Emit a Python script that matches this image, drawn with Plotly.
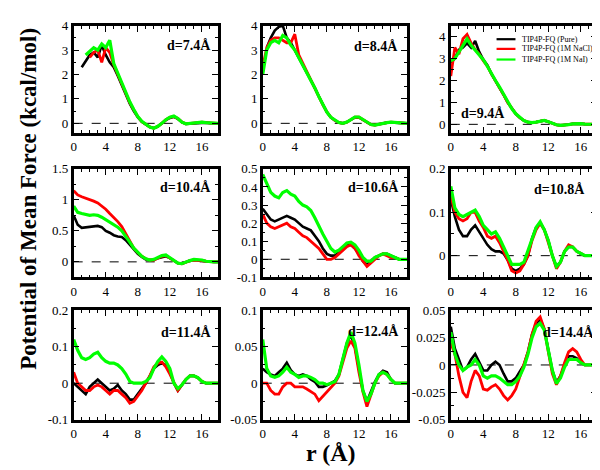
import plotly.graph_objects as go

# r grid (Angstrom), step 0.5
R = [0, 0.5, 1, 1.5, 2, 2.5, 3, 3.5, 4, 4.5, 5, 5.5, 6, 6.5, 7, 7.5, 8, 8.5, 9, 9.5,
     10, 10.5, 11, 11.5, 12, 12.5, 13, 13.5, 14, 14.5, 15, 15.5, 16, 16.5, 17, 17.5, 18]

SERIES = ["TIP4P-FQ (Pure)", "TIP4P-FQ (1M NaCl)", "TIP4P-FQ (1M NaI)"]
COLORS = ["#000000", "#ff0000", "#00ff00"]
WIDTHS = [2.6, 2.8, 3.2]
N = None

# d = 7.4
d74_pure = [N, N, 2.3, 2.55, 2.8, 2.9, 2.7, 3.2, 2.8, 2.5, 2.3, 1.95, 1.55, 1.15, 0.8, 0.5, 0.25, 0.06, -0.06, -0.15, -0.2,
            -0.13, 0.0, 0.13, 0.22, 0.27, 0.18, 0.05, -0.02, -0.01, 0.01, 0.03, 0.05, 0.03, 0.01, 0.0, 0.0]
d74_nacl = [N, N, N, N, 2.7, 2.9, 3.0, 2.5, 3.1, 2.9, 2.4, 2.0, 1.6, 1.2, 0.85, 0.55, 0.27, 0.07, -0.05, -0.15, -0.2,
            -0.12, 0.0, 0.15, 0.25, 0.28, 0.2, 0.05, -0.02, 0.0, 0.02, 0.05, 0.05, 0.03, 0.01, 0.0, 0.0]
d74_nai = [N, N, N, 2.8, 2.95, 3.1, 3.0, 3.25, 3.1, 3.4, 2.45, 2.05, 1.65, 1.25, 0.88, 0.57, 0.28, 0.08, -0.05, -0.15, -0.2,
           -0.12, 0.0, 0.15, 0.25, 0.3, 0.2, 0.05, -0.02, 0.0, 0.02, 0.05, 0.05, 0.03, 0.02, 0.0, 0.0]
# d = 8.4
d84_pure = [N, 3.1, 3.5, 3.8, 3.95, 4.0, 3.5, 3.3, 3.0, 2.65, 2.35, 2.1, 1.8, 1.45, 1.1, 0.75, 0.46, 0.25, 0.12, 0.03, 0.0,
            0.05, 0.15, 0.24, 0.24, 0.14, 0.03, -0.05, -0.07, -0.03, 0.0, 0.03, 0.04, 0.03, 0.01, 0.0, 0.0]
d84_nacl = [2.3, 3.1, 3.4, 3.5, 3.5, 3.4, 3.3, 3.3, 3.65, 2.8, 2.45, 2.12, 1.8, 1.45, 1.1, 0.76, 0.47, 0.25, 0.12, 0.03, 0.0,
            0.05, 0.15, 0.25, 0.25, 0.15, 0.03, -0.05, -0.07, -0.03, 0.0, 0.03, 0.05, 0.04, 0.02, 0.0, 0.0]
d84_nai = [2.0, 3.0, 3.3, 3.4, 3.3, 3.6, 3.5, 3.2, 3.0, 2.7, 2.4, 2.1, 1.8, 1.45, 1.1, 0.75, 0.46, 0.25, 0.12, 0.03, 0.0,
           0.05, 0.15, 0.26, 0.26, 0.15, 0.03, -0.05, -0.07, -0.03, 0.0, 0.03, 0.05, 0.03, 0.01, 0.0, 0.0]
# d = 9.4
d94_pure = [2.8, 3.0, 3.4, 3.5, 3.7, 3.5, 3.8, 3.3, 2.95, 2.7, 2.3, 2.0, 1.7, 1.35, 1.0, 0.72, 0.48, 0.3, 0.17, 0.1, 0.08,
            0.1, 0.15, 0.18, 0.12, 0.04, -0.02, -0.05, -0.04, -0.01, 0.02, 0.04, 0.03, 0.01, 0.0, 0.0, 0.0]
d94_nacl = [2.2, 3.5, 3.2, 3.9, 4.1, 3.7, 3.4, 3.2, 2.9, 2.65, 2.3, 2.0, 1.7, 1.35, 1.0, 0.72, 0.48, 0.3, 0.17, 0.1, 0.08,
            0.1, 0.15, 0.18, 0.12, 0.04, -0.02, -0.05, -0.04, -0.01, 0.02, 0.04, 0.03, 0.01, 0.0, 0.0, 0.0]
d94_nai = [2.9, 3.0, 3.3, 3.6, 3.9, 3.6, 3.4, 3.2, 2.95, 2.65, 2.3, 2.0, 1.7, 1.35, 1.0, 0.72, 0.48, 0.3, 0.17, 0.1, 0.08,
           0.1, 0.15, 0.18, 0.12, 0.04, -0.02, -0.05, -0.04, -0.01, 0.02, 0.04, 0.03, 0.01, 0.0, 0.0, 0.0]
# d = 10.4
d104_pure = [0.75, 0.6, 0.55, 0.56, 0.57, 0.58, 0.58, 0.56, 0.5, 0.47, 0.43, 0.41, 0.4, 0.35, 0.28, 0.2, 0.13, 0.08, 0.04, 0.03,
             0.03, 0.06, 0.08, 0.09, 0.06, 0.02, -0.02, -0.03, 0.0, 0.02, 0.03, 0.03, 0.02, 0.01, 0.0, 0.0, 0.0]
d104_nacl = [1.15, 1.08, 1.05, 1.03, 1.0, 0.98, 0.95, 0.9, 0.85, 0.78, 0.72, 0.65, 0.57, 0.45, 0.32, 0.22, 0.15, 0.09, 0.05, 0.03,
             0.03, 0.06, 0.09, 0.1, 0.06, 0.02, -0.02, -0.03, 0.0, 0.02, 0.03, 0.03, 0.02, 0.01, 0.0, 0.0, 0.0]
d104_nai = [0.9, 0.8, 0.78, 0.76, 0.75, 0.76, 0.75, 0.72, 0.68, 0.64, 0.6, 0.56, 0.5, 0.42, 0.32, 0.22, 0.15, 0.09, 0.05, 0.03,
            0.04, 0.07, 0.1, 0.11, 0.07, 0.03, -0.02, -0.03, 0.0, 0.02, 0.04, 0.04, 0.03, 0.01, 0.0, 0.0, 0.0]
# d = 10.6
d106_pure = [0.28, 0.25, 0.22, 0.21, 0.22, 0.23, 0.24, 0.23, 0.22, 0.2, 0.18, 0.17, 0.16, 0.13, 0.1, 0.06, 0.03, 0.02, 0.02, 0.04,
             0.06, 0.08, 0.08, 0.06, 0.03, -0.01, -0.03, -0.01, 0.01, 0.02, 0.03, 0.03, 0.02, 0.01, 0.0, 0.0, 0.0]
d106_nacl = [0.25, 0.2, 0.18, 0.17, 0.18, 0.19, 0.2, 0.18, 0.17, 0.15, 0.13, 0.12, 0.1, 0.08, 0.06, 0.03, 0.0, 0.0, 0.01, 0.03,
             0.05, 0.07, 0.08, 0.06, 0.02, -0.01, -0.04, -0.02, 0.0, 0.02, 0.03, 0.02, 0.01, 0.01, 0.0, 0.0, 0.0]
d106_nai = [0.47, 0.42, 0.37, 0.35, 0.34, 0.37, 0.38, 0.36, 0.35, 0.32, 0.3, 0.29, 0.27, 0.23, 0.18, 0.14, 0.1, 0.06, 0.04, 0.05,
            0.07, 0.09, 0.095, 0.08, 0.05, 0.01, -0.01, -0.01, 0.01, 0.02, 0.03, 0.03, 0.02, 0.01, 0.0, 0.0, 0.0]
# d = 10.8
d108_pure = [0.13, 0.09, 0.06, 0.045, 0.045, 0.06, 0.07, 0.055, 0.04, 0.025, 0.015, 0.01, 0.01, 0.005, -0.01, -0.03, -0.035, -0.03, -0.02, 0.0,
             0.04, 0.065, 0.075, 0.06, 0.035, 0.0, -0.025, -0.015, 0.01, 0.02, 0.02, 0.01, 0.005, 0.0, 0.0, 0.0, 0.0]
d108_nacl = [0.14, 0.1, 0.085, 0.08, 0.085, 0.1, 0.1, 0.08, 0.065, 0.045, 0.04, 0.045, 0.03, 0.01, -0.01, -0.035, -0.04, -0.035, -0.02, 0.0,
             0.035, 0.06, 0.075, 0.06, 0.03, -0.005, -0.03, -0.015, 0.01, 0.025, 0.02, 0.01, 0.005, 0.0, 0.0, 0.0, 0.0]
d108_nai = [0.16, 0.11, 0.095, 0.09, 0.095, 0.1, 0.105, 0.09, 0.07, 0.06, 0.05, 0.055, 0.04, 0.02, 0.0, -0.02, -0.02, -0.02, -0.015, 0.01,
            0.04, 0.065, 0.078, 0.06, 0.035, 0.0, -0.025, -0.015, 0.01, 0.02, 0.02, 0.01, 0.005, 0.0, 0.0, 0.0, 0.0]
# d = 11.4
d114_pure = [0.0, -0.01, -0.02, -0.03, -0.01, 0.0, 0.01, 0.0, -0.01, -0.02, -0.015, -0.005, -0.02, -0.03, -0.045, -0.045, -0.03, -0.015, 0.0, 0.02,
             0.04, 0.05, 0.055, 0.05, 0.03, 0.0, -0.02, -0.005, 0.01, 0.02, 0.02, 0.015, 0.005, 0.0, 0.0, 0.0, 0.0]
d114_nacl = [0.03, 0.0, -0.01, -0.02, -0.02, -0.01, -0.005, -0.01, -0.02, -0.03, -0.02, -0.02, -0.03, -0.04, -0.055, -0.05, -0.035, -0.02, 0.0, 0.02,
             0.045, 0.055, 0.058, 0.045, 0.025, 0.0, -0.02, -0.005, 0.01, 0.02, 0.02, 0.015, 0.005, 0.0, 0.0, 0.0, 0.0]
d114_nai = [0.12, 0.09, 0.07, 0.065, 0.07, 0.08, 0.085, 0.07, 0.06, 0.055, 0.055, 0.05, 0.04, 0.025, 0.005, 0.0, 0.0, 0.0, 0.005, 0.015,
            0.04, 0.06, 0.072, 0.06, 0.04, 0.0, -0.015, -0.005, 0.01, 0.02, 0.02, 0.015, 0.005, 0.0, 0.0, 0.0, 0.0]
# d = 12.4
d124_pure = [0.02, 0.015, 0.012, 0.01, 0.015, 0.02, 0.028, 0.018, 0.012, 0.01, 0.012, 0.01, 0.005, 0.002, -0.005, -0.005, -0.003, 0.0, 0.003, 0.012,
             0.035, 0.055, 0.066, 0.05, 0.02, -0.01, -0.025, -0.012, 0.002, 0.012, 0.017, 0.015, 0.005, 0.0, 0.0, 0.0, 0.0]
d124_nacl = [0.0, 0.0, -0.01, -0.015, -0.015, -0.005, 0.0, 0.0, -0.005, -0.005, -0.005, -0.008, -0.012, -0.015, -0.024, -0.018, -0.012, -0.005, 0.0, 0.01,
             0.03, 0.048, 0.058, 0.048, 0.015, -0.012, -0.032, -0.015, 0.0, 0.01, 0.015, 0.012, 0.005, 0.0, 0.0, 0.0, 0.0]
d124_nai = [0.06, 0.02, 0.01, 0.008, 0.01, 0.015, 0.022, 0.015, 0.012, 0.008, 0.01, 0.01, 0.008, 0.005, 0.0, 0.0, -0.002, 0.0, 0.002, 0.012,
            0.035, 0.055, 0.07, 0.055, 0.025, -0.01, -0.025, -0.015, 0.0, 0.012, 0.015, 0.012, 0.005, 0.0, 0.0, 0.0, 0.0]
# d = 14.4
d144_pure = [0.035, 0.015, 0.005, -0.005, -0.002, 0.005, 0.01, 0.002, -0.005, -0.005, 0.0, 0.003, 0.0, -0.008, -0.015, -0.015, -0.012, -0.006, 0.0, 0.012,
             0.028, 0.038, 0.042, 0.033, 0.015, -0.005, -0.016, -0.01, 0.0, 0.008, 0.008, 0.006, 0.002, 0.0, 0.0, 0.0, 0.0]
d144_nacl = [0.02, 0.01, -0.01, -0.025, -0.03, -0.015, -0.005, -0.01, -0.022, -0.023, -0.02, -0.018, -0.022, -0.028, -0.032, -0.028, -0.022, -0.01, 0.0, 0.012,
             0.028, 0.04, 0.044, 0.033, 0.012, -0.008, -0.018, -0.01, 0.002, 0.012, 0.015, 0.012, 0.005, 0.0, 0.0, 0.0, 0.0]
d144_nai = [0.03, 0.01, 0.0, -0.005, -0.002, 0.0, 0.005, 0.0, -0.01, -0.012, -0.01, -0.01, -0.012, -0.015, -0.018, -0.018, -0.015, -0.01, -0.002, 0.01,
            0.025, 0.035, 0.038, 0.032, 0.015, -0.005, -0.017, -0.012, -0.002, 0.005, 0.005, 0.005, 0.002, 0.0, 0.0, 0.0, 0.0]

PANEL_LABELS = ["d=7.4Å", "d=8.4Å", "d=9.4Å", "d=10.4Å", "d=10.6Å", "d=10.8Å", "d=11.4Å", "d=12.4Å", "d=14.4Å"]
PANEL_DATA = [
    (d74_pure, d74_nacl, d74_nai), (d84_pure, d84_nacl, d84_nai), (d94_pure, d94_nacl, d94_nai),
    (d104_pure, d104_nacl, d104_nai), (d106_pure, d106_nacl, d106_nai), (d108_pure, d108_nacl, d108_nai),
    (d114_pure, d114_nacl, d114_nai), (d124_pure, d124_nacl, d124_nai), (d144_pure, d144_nacl, d144_nai),
]
X_TICKS = [0, 4, 8, 12, 16]
Y_RANGES = [[-0.4, 4], [-0.4, 4], [-0.4, 4.5], [-0.25, 1.5], [-0.1, 0.5], [-0.05, 0.2], [-0.1, 0.2], [-0.05, 0.1], [-0.05, 0.05]]
Y_TICKS = [
    [0, 1, 2, 3, 4], [0, 1, 2, 3, 4], [0, 1, 2, 3, 4], [0, 0.5, 1, 1.5], [-0.1, 0, 0.1, 0.2, 0.3, 0.4, 0.5],
    [0, 0.1, 0.2], [-0.1, 0, 0.1, 0.2], [-0.05, 0, 0.05, 0.1], [-0.05, -0.025, 0, 0.025, 0.05],
]
Y_TICKTEXT = [
    ["0", "1", "2", "3", "4"], ["0", "1", "2", "3", "4"], ["0", "1", "2", "3", "4"], ["0", "0.5", "1", "1.5"],
    ["-0.1", "0", "0.1", "0.2", "0.3", "0.4", "0.5"], ["0", "0.1", "0.2"], ["-0.1", "0", "0.1", "0.2"],
    ["-0.05", "0", "0.05", "0.1"], ["-0.05", "-0.025", "0", "0.025", "0.05"],
]
Y_MINOR = [0.5, 0.5, 0.5, 0.25, 0.05, 0.05, 0.05, 0.025, 0.0125]

W, H = 600, 470
COLS_PX = [(63, 208), (253, 398), (442, 589)]
ROWS_PX = [(11, 122), (159, 271), (305, 418)]
# label positions (right/left x, center y) in pixels
LABEL_POS = [(203, 32, "right"), (391, 33, "right"), (450, 102, "left"), (203, 178, "right"), (392, 178, "right"),
             (579, 180, "right"), (203, 328, "right"), (392, 327, "right"), (588, 328, "right")]

FONT = "Liberation Serif, Times New Roman, Times, serif"
fig = go.Figure()
layout = dict(width=W, height=H, margin=dict(l=0, r=0, t=0, b=0), paper_bgcolor="white",
              plot_bgcolor="white", showlegend=False, font=dict(family=FONT, color="black"))
annotations = []
shapes = []


def axis_base(**kw):
    d = dict(showline=True, linewidth=2.5, linecolor="black", mirror=True, ticks="inside",
             ticklen=6, tickwidth=1.2, tickcolor="black", showgrid=False, zeroline=False,
             tickfont=dict(family=FONT, size=13, color="black"))
    d.update(kw)
    return d


for i in range(9):
    r, c = divmod(i, 3)
    k = "" if i == 0 else str(i + 1)
    m = str(10 + i)
    x0, x1 = COLS_PX[c]
    y0, y1 = ROWS_PX[r]
    xminor = dict(dtick=1, ticks="inside", ticklen=3, tickcolor="black", tickwidth=1)
    yminor = dict(dtick=Y_MINOR[i], tick0=0, ticks="inside", ticklen=3, tickcolor="black", tickwidth=1)
    ytext = Y_TICKTEXT[i]
    layout["xaxis" + k] = axis_base(domain=[x0 / W, x1 / W], range=[0, 18], tickvals=X_TICKS,
                                    ticktext=[str(v) for v in X_TICKS], anchor="y" + k, minor=xminor)
    layout["yaxis" + k] = axis_base(domain=[1 - y1 / H, 1 - y0 / H], range=Y_RANGES[i],
                                    tickvals=Y_TICKS[i], ticktext=ytext, anchor="x" + k, minor=yminor)
    # mirrored tick axes (top / right)
    layout["xaxis" + m] = axis_base(overlaying="x" + k, side="top", anchor="y" + m, range=[0, 18],
                                    tickvals=X_TICKS, showticklabels=False, showline=False, mirror=False,
                                    minor=xminor)
    layout["yaxis" + m] = axis_base(overlaying="y" + k, side="right", anchor="x" + m, range=Y_RANGES[i],
                                    tickvals=Y_TICKS[i], showticklabels=False, showline=False, mirror=False,
                                    minor=yminor)
    fig.add_trace(go.Scatter(x=[None], y=[None], xaxis="x" + m, yaxis="y" + m, showlegend=False,
                             hoverinfo="skip"))
    for s in range(3):
        fig.add_trace(go.Scatter(x=R, y=PANEL_DATA[i][s], mode="lines", name=SERIES[s],
                                 line=dict(color=COLORS[s], width=WIDTHS[s]), xaxis="x" + k, yaxis="y" + k,
                                 showlegend=False))
    shapes.append(dict(type="line", xref="x" + k, yref="y" + k, x0=0, x1=18, y0=0, y1=0,
                       line=dict(color="black", width=1, dash="dash"), layer="below"))
    lx, ly, anc = LABEL_POS[i]
    annotations.append(dict(text="<b>" + PANEL_LABELS[i] + "</b>", xref="paper", yref="paper",
                            x=lx / W, y=1 - ly / H, xanchor=anc, yanchor="middle", showarrow=False,
                            font=dict(family=FONT, size=14, color="black")))

# legend drawn inside the d=9.4 panel
LEG_Y = [25, 35, 46]
for s in range(3):
    shapes.append(dict(type="line", xref="paper", yref="paper", x0=488 / W, x1=507 / W,
                       y0=1 - LEG_Y[s] / H, y1=1 - LEG_Y[s] / H, line=dict(color=COLORS[s], width=2.2)))
    annotations.append(dict(text=SERIES[s], xref="paper", yref="paper", x=512 / W, y=1 - LEG_Y[s] / H,
                            xanchor="left", yanchor="middle", showarrow=False,
                            font=dict(family=FONT, size=8, color="black")))

annotations.append(dict(text="<b>Potential of Mean Force (kcal/mol)</b>", xref="paper", yref="paper",
                        x=18 / W, y=1 - 190 / H, textangle=-90, showarrow=False, xanchor="center",
                        yanchor="middle", font=dict(family=FONT, size=23, color="black")))
annotations.append(dict(text="<b>r (Å)</b>", xref="paper", yref="paper", x=322 / W, y=1 - 452 / H,
                        showarrow=False, xanchor="center", yanchor="middle",
                        font=dict(family=FONT, size=24, color="black")))
layout["annotations"] = annotations
layout["shapes"] = shapes
fig.update_layout(**layout)
fig.write_html("out.html")
